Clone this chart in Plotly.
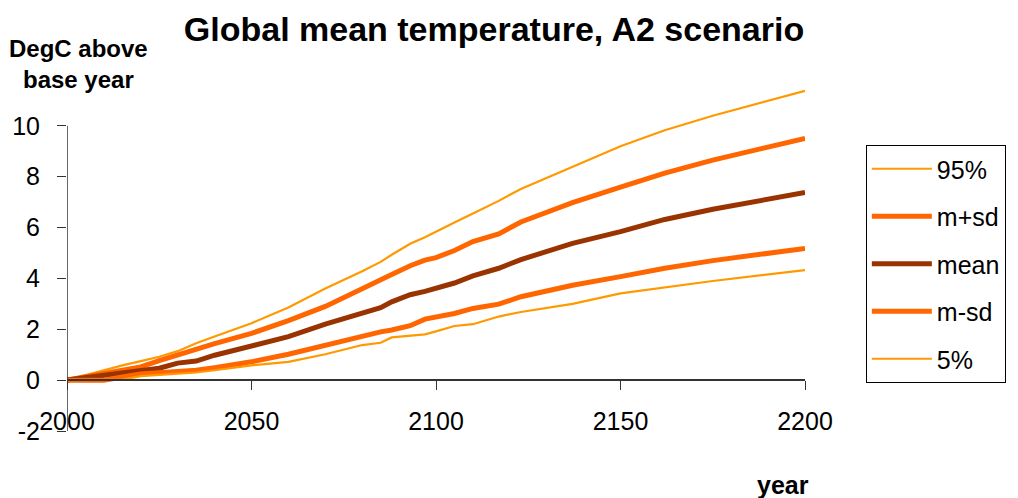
import plotly.graph_objects as go

years = [2000, 2005, 2010, 2015, 2020, 2025, 2030, 2035, 2040, 2050, 2060, 2070, 2080,
         2085, 2088, 2093, 2097, 2100, 2105, 2110, 2117, 2123, 2137, 2150, 2162, 2175, 2200]

p95 = [0, 0.2, 0.39, 0.58, 0.75, 0.92, 1.14, 1.45, 1.72, 2.24, 2.86, 3.6, 4.28,
       4.65, 4.93, 5.36, 5.62, 5.85, 6.2, 6.55, 7.05, 7.52, 8.4, 9.2, 9.83, 10.4, 11.38]
m_plus_sd = [0, 0.12, 0.26, 0.38, 0.52, 0.77, 1.0, 1.23, 1.44, 1.84, 2.34, 2.9, 3.57,
             3.94, 4.15, 4.5, 4.72, 4.82, 5.1, 5.45, 5.75, 6.22, 6.98, 7.59, 8.14, 8.65, 9.51]
mean = [0, 0.1, 0.2, 0.28, 0.37, 0.47, 0.67, 0.75, 0.98, 1.34, 1.71, 2.2, 2.63,
        2.85, 3.08, 3.36, 3.49, 3.6, 3.82, 4.1, 4.4, 4.74, 5.38, 5.84, 6.32, 6.72, 7.38]
m_minus_sd = [0, 0, 0, 0.12, 0.24, 0.29, 0.32, 0.39, 0.49, 0.72, 1.02, 1.38, 1.71,
              1.9, 1.97, 2.14, 2.4, 2.47, 2.62, 2.82, 2.99, 3.28, 3.73, 4.07, 4.4, 4.7, 5.18]
p5 = [0, 0, 0, 0.02, 0.16, 0.2, 0.24, 0.3, 0.39, 0.58, 0.72, 1.02, 1.38,
      1.47, 1.68, 1.75, 1.8, 1.92, 2.13, 2.2, 2.5, 2.68, 3.0, 3.41, 3.65, 3.9, 4.33]

series_names = ["95%", "m+sd", "mean", "m-sd", "5%"]
series_values = [p95, m_plus_sd, mean, m_minus_sd, p5]
series_colors = ["#FF9900", "#FF6600", "#993300", "#FF6600", "#FF9900"]
series_widths = [2.2, 5, 5, 5, 2.2]

x_ticks = [2000, 2050, 2100, 2150, 2200]
y_ticks = [-2, 0, 2, 4, 6, 8, 10]

FONT = "Arial, Liberation Sans, sans-serif"

# plot area: x 65..805 px, y range [-2, 12] -> 431..75 px (value 10 at 126 px)
Y_MIN, Y_MAX, Y_AXIS_TOP = -2, 12, 10
PLOT_TOP = 75
PLOT_BOTTOM = 431
ph = PLOT_BOTTOM - PLOT_TOP


def ypaper(px):
    return (PLOT_BOTTOM - px) / ph


fig = go.Figure()
for i, (name, vals, col, w) in enumerate(zip(series_names, series_values, series_colors, series_widths)):
    fig.add_trace(go.Scatter(x=years, y=vals, mode="lines", name=name,
                             legendgroup=f"g{i}",
                             line=dict(color=col, width=w)))

fig.update_layout(
    width=1018, height=498,
    paper_bgcolor="white", plot_bgcolor="white",
    margin=dict(l=65, r=213, t=PLOT_TOP, b=498 - PLOT_BOTTOM),
    font=dict(family=FONT, size=25, color="black"),
    title=dict(text="<b>Global mean temperature, A2 scenario</b>",
               x=494 / 1018, xanchor="center", xref="container",
               y=1 - 29 / 498, yanchor="middle", yref="container",
               font=dict(size=34, family=FONT, color="black")),
    showlegend=True,
    legend=dict(x=(866 - 65) / 740, xanchor="left", y=ypaper(145), yanchor="top",
                bordercolor="black", borderwidth=1, bgcolor="white",
                font=dict(size=25, family=FONT),
                traceorder="grouped", tracegroupgap=12, itemwidth=60),
    xaxis=dict(range=[2000, 2200], tickvals=x_ticks, ticktext=[str(v) for v in x_ticks],
               anchor="free", position=(0 - Y_MIN) / (Y_MAX - Y_MIN),
               showline=True, linecolor="#333333", linewidth=1.5,
               ticks="outside", ticklen=9, tickcolor="#333333",
               showgrid=False, zeroline=False, ticklabelstandoff=10),
    yaxis=dict(range=[Y_MIN, Y_MAX], tickvals=y_ticks, ticktext=[str(v) for v in y_ticks],
               showline=False,
               ticks="outside", ticklen=9, tickcolor="#333333",
               showgrid=False, zeroline=False, ticklabelstandoff=12),
    shapes=[dict(type="line", xref="x", yref="y", x0=2000, x1=2000, y0=Y_MIN, y1=Y_AXIS_TOP,
                 line=dict(color="#333333", width=1.5), layer="above")],
    annotations=[
        dict(text="<b>DegC above<br>base year</b>", xref="paper", yref="paper",
             x=(77 - 65) / 740, y=ypaper(64), xanchor="center", yanchor="middle",
             showarrow=False, font=dict(size=24, family=FONT)),
        dict(text="<b>year</b>", xref="paper", yref="paper",
             x=(783 - 65) / 740, y=ypaper(485), xanchor="center", yanchor="middle",
             showarrow=False, font=dict(size=25, family=FONT)),
    ],
)

fig.write_html("out.html")
